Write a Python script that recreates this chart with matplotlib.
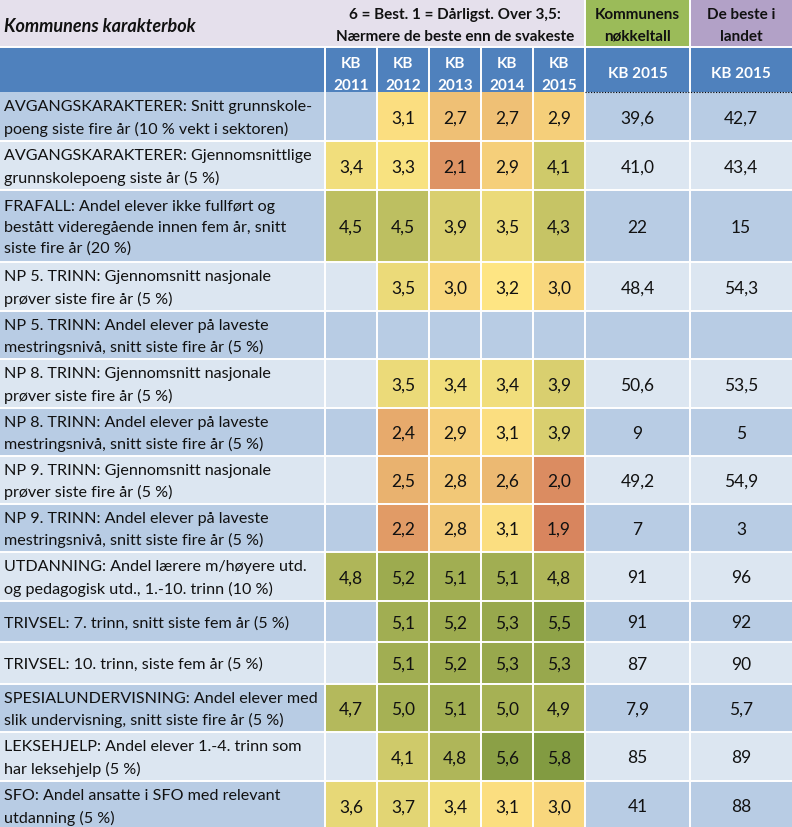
import numpy as np
import matplotlib.pyplot as plt
from matplotlib.colors import LinearSegmentedColormap, TwoSlopeNorm

plt.rcParams['font.family'] = ['Lato', 'DejaVu Sans']

# Data
labels = [
    "AVGANGSKARAKTERER: Snitt grunnskole-\npoeng siste fire år (10 % vekt i sektoren)",
    "AVGANGSKARAKTERER: Gjennomsnittlige\ngrunnskolepoeng siste år (5 %)",
    "FRAFALL: Andel elever ikke fullført og\nbestått videregående innen fem år, snitt\nsiste fire år (20 %)",
    "NP 5. TRINN: Gjennomsnitt nasjonale\nprøver siste fire år (5 %)",
    "NP 5. TRINN: Andel elever på laveste\nmestringsnivå, snitt siste fire år (5 %)",
    "NP 8. TRINN: Gjennomsnitt nasjonale\nprøver siste fire år (5 %)",
    "NP 8. TRINN: Andel elever på laveste\nmestringsnivå, snitt siste fire år (5 %)",
    "NP 9. TRINN: Gjennomsnitt nasjonale\nprøver siste fire år (5 %)",
    "NP 9. TRINN: Andel elever på laveste\nmestringsnivå, snitt siste fire år (5 %)",
    "UTDANNING: Andel lærere m/høyere utd.\nog pedagogisk utd., 1.-10. trinn (10 %)",
    "TRIVSEL: 7. trinn, snitt siste fem år (5 %)",
    "TRIVSEL: 10. trinn, siste fem år (5 %)",
    "SPESIALUNDERVISNING: Andel elever med\nslik undervisning, snitt siste fire år (5 %)",
    "LEKSEHJELP: Andel elever 1.-4. trinn som\nhar leksehjelp (5 %)",
    "SFO: Andel ansatte i SFO med relevant\nutdanning (5 %)",
]
nan = np.nan
kb2011 = [nan, 3.4, 4.5, nan, nan, nan, nan, nan, nan, 4.8, nan, nan, 4.7, nan, 3.6]
kb2012 = [3.1, 3.3, 4.5, 3.5, nan, 3.5, 2.4, 2.5, 2.2, 5.2, 5.1, 5.1, 5.0, 4.1, 3.7]
kb2013 = [2.7, 2.1, 3.9, 3.0, nan, 3.4, 2.9, 2.8, 2.8, 5.1, 5.2, 5.2, 5.1, 4.8, 3.4]
kb2014 = [2.7, 2.9, 3.5, 3.2, nan, 3.4, 3.1, 2.6, 3.1, 5.1, 5.3, 5.3, 5.0, 5.6, 3.1]
kb2015 = [2.9, 4.1, 4.3, 3.0, nan, 3.9, 3.9, 2.0, 1.9, 4.8, 5.5, 5.3, 4.9, 5.8, 3.0]
nokkeltall = ["39,6", "41,0", "22", "48,4", "", "50,6", "9", "49,2", "7", "91", "91", "87", "7,9", "85", "41"]
beste = ["42,7", "43,4", "15", "54,3", "", "53,5", "5", "54,9", "3", "96", "92", "90", "5,7", "89", "88"]
year_labels = ["KB\n2011", "KB\n2012", "KB\n2013", "KB\n2014", "KB\n2015"]

scores = np.array([kb2011, kb2012, kb2013, kb2014, kb2015]).T
scores = np.ma.masked_invalid(scores)

# Layout (pixels)
W, H = 792, 828
col_edges = [0, 325, 377, 429, 481, 533, 585, 690, 792]
row_edges = [93, 142, 191, 263, 312, 360, 409, 457, 505, 553, 602, 643, 685, 733, 782, 831]

lavender = '#e5e0ec'
green_hdr = '#9bbb59'
purple_hdr = '#b2a1c7'
blue_hdr = '#4f81bd'
dark_row = '#b8cce4'
light_row = '#dce6f1'
ink = '#111111'

cmap = LinearSegmentedColormap.from_list(
    'kb', [(0.0, '#d8855e'), (0.41, '#fee683'), (1.0, '#829b41')])
norm = TwoSlopeNorm(vmin=1.9, vcenter=3.5, vmax=5.8)

fig = plt.figure(figsize=(W / 100, H / 100), dpi=100)
ax = fig.add_axes([0, 0, 1, 1])
ax.set_xlim(0, W)
ax.set_ylim(H, 0)
ax.axis('off')

# header backgrounds
ax.axhspan(0, 48, xmin=0, xmax=585 / W, color=lavender, lw=0)
ax.axhspan(0, 48, xmin=585 / W, xmax=690 / W, color=green_hdr, lw=0)
ax.axhspan(0, 48, xmin=690 / W, xmax=1, color=purple_hdr, lw=0)
ax.axhspan(48, 93, color=blue_hdr, lw=0)

# row stripes
tops = np.array(row_edges[:-1])
heights = np.diff(row_edges)
stripe_cols = [dark_row if i % 2 == 0 else light_row for i in range(len(labels))]
ax.barh(tops, W, height=heights, left=0, align='edge', color=stripe_cols, lw=0)

# heatmap cells
ax.pcolormesh(col_edges[1:7], row_edges, scores, cmap=cmap, norm=norm,
              edgecolors='none')

# white grid
for x in col_edges[1:-1]:
    ax.plot([x, x], [48, H], color='white', lw=1.4)
for x in [585, 690]:
    ax.plot([x, x], [0, 48], color='white', lw=1.4)
for y in row_edges[1:-1]:
    ax.plot([0, W], [y, y], color='white', lw=1.4)
ax.plot([0, W], [48, 48], color='white', lw=1.4)
ax.plot([585, W], [93, 93], color='black', lw=0.8, ls=(0, (1, 1.5)))

# header texts
ax.text(4, 26, "Kommunens karakterbok", fontsize=13, fontweight='bold',
        style='italic', va='center', ha='left', color=ink)
hdr = dict(fontsize=11, fontweight='bold', va='center', ha='center',
           linespacing=1.65, color=ink)
ax.text(455, 26, "6 = Best. 1 = Dårligst. Over 3,5:\nNærmere de beste enn de svakeste", **hdr)
ax.text(637.5, 26, "Kommunens\nnøkkeltall", **hdr)
ax.text(741, 26, "De beste i\nlandet", **hdr)
for j, lab in enumerate(year_labels):
    xc = (col_edges[j + 1] + col_edges[j + 2]) / 2
    ax.text(xc, 75, lab, fontsize=11, fontweight='bold', color='white',
            va='center', ha='center', linespacing=1.65)
ax.text(637.5, 74, "KB 2015", fontsize=11, fontweight='bold', color='white',
        va='center', ha='center')
ax.text(741, 74, "KB 2015", fontsize=11, fontweight='bold', color='white',
        va='center', ha='center')

# body texts
for i, lab in enumerate(labels):
    yc = (row_edges[i] + row_edges[i + 1]) / 2 + 1
    ax.text(4, yc, lab, fontsize=11.6, va='center', ha='left',
            linespacing=1.6, color=ink)
    for j in range(5):
        v = scores[i, j]
        if v is not np.ma.masked:
            xc = (col_edges[j + 1] + col_edges[j + 2]) / 2
            ax.text(xc, yc, f"{v:.1f}".replace('.', ','), fontsize=12.5,
                    va='center', ha='center', color=ink)
    ax.text(637.5, yc, nokkeltall[i], fontsize=12.5, va='center', ha='center',
            color=ink)
    ax.text(741, yc, beste[i], fontsize=12.5, va='center', ha='center',
            color=ink)

fig.savefig('out.png', dpi=100)
